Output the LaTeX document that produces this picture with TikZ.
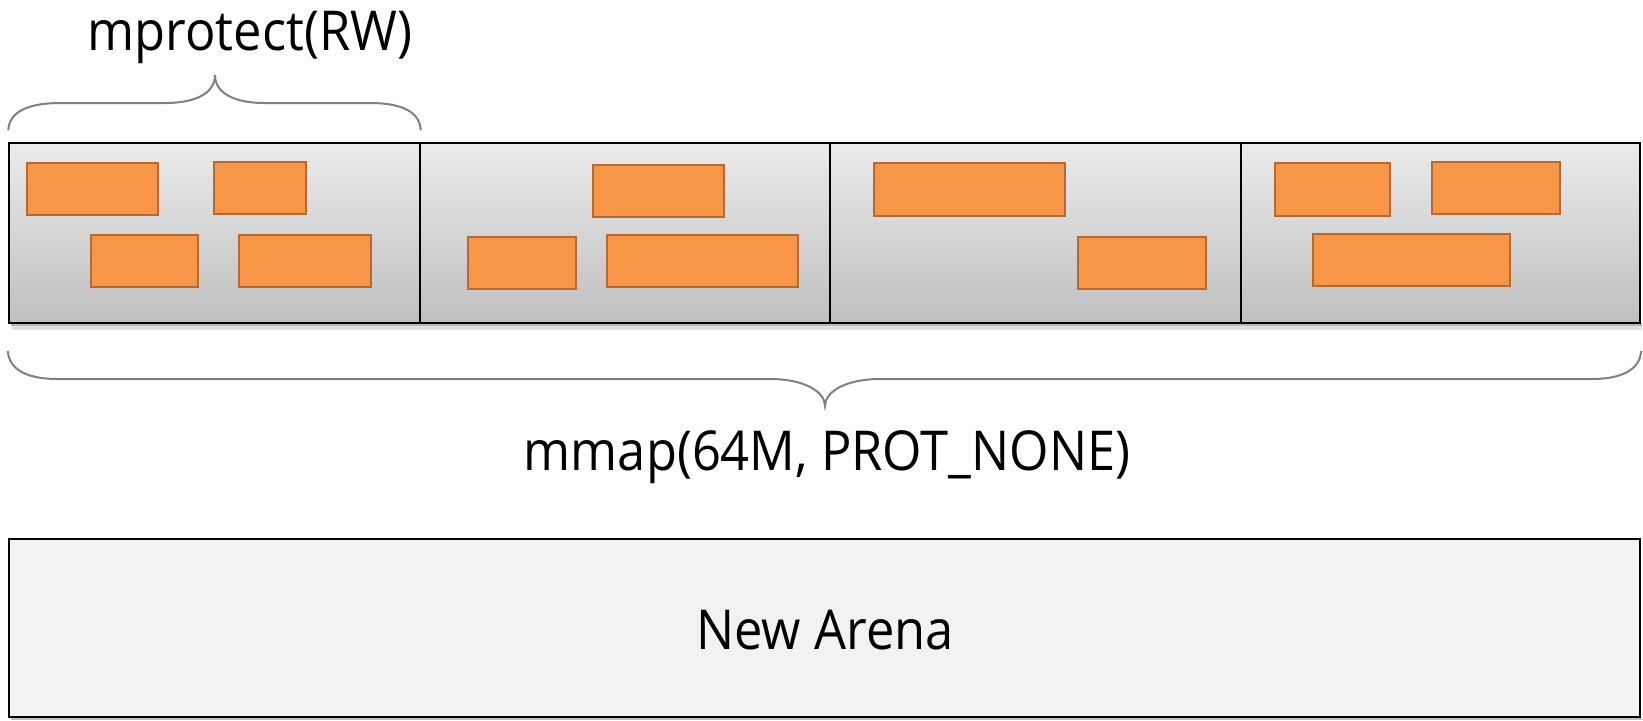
\documentclass[tikz,border=0pt]{standalone}
\usepackage{fontspec}
\setmainfont[FakeStretch=0.92]{Open Sans}
\usetikzlibrary{fit}
\definecolor{blockfill}{HTML}{F79646}
\definecolor{blockline}{HTML}{B9692E}
\definecolor{bracegray}{HTML}{808080}
\definecolor{arenafill}{HTML}{F2F2F2}
\begin{document}
\begin{tikzpicture}[x=0.5pt,y=-0.5pt,
  cell/.style={draw=black, line width=0.7pt, inner sep=0pt,
               top color=black!8, bottom color=black!25},
  frame/.style={draw=black, line width=1.1pt, inner sep=0pt},
  block/.style={draw=blockline, fill=blockfill, line width=0.9pt, inner sep=0pt},
  arena/.style={draw=black, fill=arenafill, line width=0.8pt, inner sep=0pt},
  brace/.style={draw=bracegray, line width=1pt},
  label/.style={font=\fontsize{27.5}{33}\selectfont, anchor=base, inner sep=0pt}]
\useasboundingbox (0,0) rectangle (1643,720);

% soft shadow under the page strip
\fill[black, opacity=.28] (11,323) rectangle (1642,326);
\fill[black, opacity=.12] (12,326) rectangle (1642,330);

% the four pages of the mapping
\node[cell, fit={(9,143) (420,323)}]    (c1) {};
\node[cell, fit={(420,143) (830,323)}]  (c2) {};
\node[cell, fit={(830,143) (1241,323)}] (c3) {};
\node[cell, fit={(1241,143) (1640,323)}] (c4) {};
\node[frame, fit={(9,143) (1640,323)}] (strip) {};

% allocated blocks
\node[block, fit={(27,163) (158,215)}]  (b11) {};
\node[block, fit={(214,162) (306,214)}] (b12) {};
\node[block, fit={(91,235) (198,287)}]  (b13) {};
\node[block, fit={(239,235) (371,287)}] (b14) {};

\node[block, fit={(593,165) (724,217)}] (b21) {};
\node[block, fit={(468,237) (576,289)}] (b22) {};
\node[block, fit={(607,235) (798,287)}] (b23) {};

\node[block, fit={(874,163) (1065,216)}]  (b31) {};
\node[block, fit={(1078,237) (1206,289)}] (b32) {};

\node[block, fit={(1275,163) (1390,216)}] (b41) {};
\node[block, fit={(1432,162) (1560,214)}] (b42) {};
\node[block, fit={(1313,234) (1510,286)}] (b43) {};

% brace over the first page
\coordinate (tl) at (c1.north west);
\coordinate (tr) at (c1.north east);
\path[brace] ([yshift=6pt]tl) .. controls (9,112) and (28,103) .. (60,103)
  -- (165,103) .. controls (198,103) and (215,92) .. (215,75)
  .. controls (215,92) and (232,103) .. (265,103)
  -- (370,103) .. controls (402,103) and (420,112) .. ([yshift=6pt]tr);
\node[label] (prot) at (250,50) {mprotect(RW)};

% brace under the whole mapping
\coordinate (bl) at (strip.south west);
\coordinate (br) at (strip.south east);
\path[brace] ([yshift=-13.5pt]bl) .. controls (9,370) and (28,379) .. (57,379)
  -- (770,379) .. controls (805,379) and (825,392) .. (825,406)
  .. controls (825,392) and (845,379) .. (880,379)
  -- (1592,379) .. controls (1621,379) and (1640,370) .. ([yshift=-13.5pt]br);
\node[label] (mmap) at (827,470) {mmap(64M, PROT\_NONE)};

% the fresh arena
\fill[black, opacity=.25] (11,718) rectangle (1642,720);
\node[arena, fit={(9,539) (1640,717)}] (arenabox) {};
\node[label] (arenatext) at (825,649) {New Arena};
\end{tikzpicture}
\end{document}
